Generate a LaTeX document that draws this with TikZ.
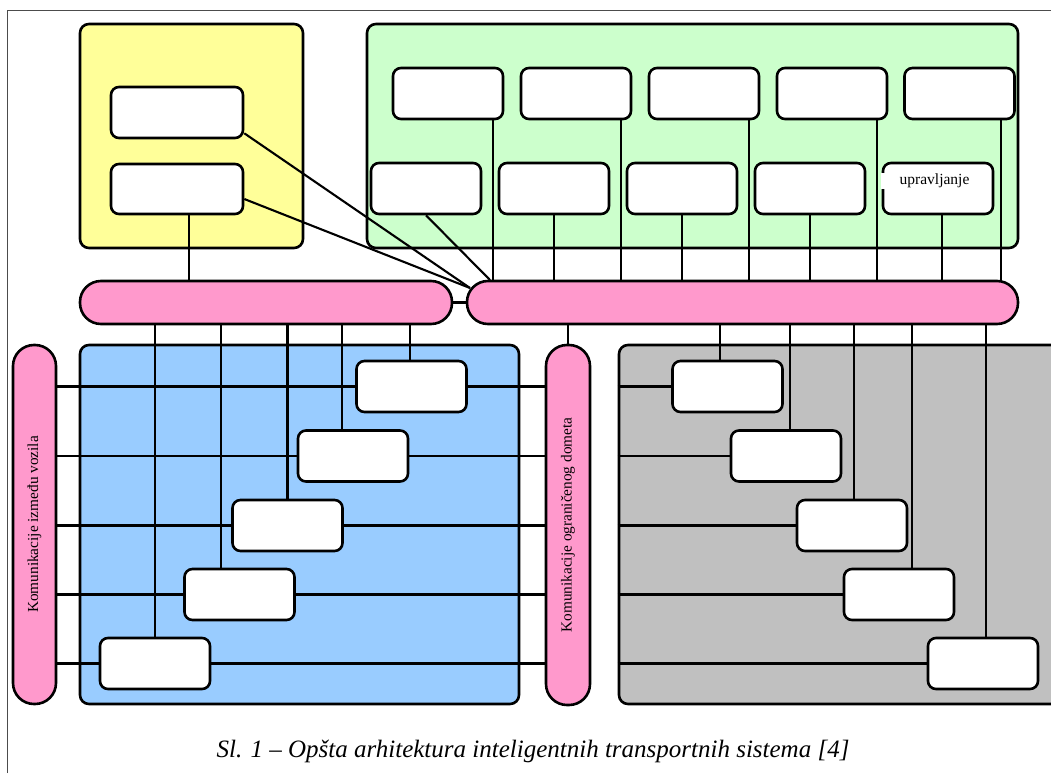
\documentclass[tikz,border=0pt]{standalone}
\usepackage{fontspec}
\usepackage{graphicx}
\setmainfont{Liberation Serif}
\usetikzlibrary{calc}
\definecolor{pinkc}{HTML}{FF99CC}
\definecolor{yellowc}{HTML}{FFFF99}
\definecolor{greenc}{HTML}{CCFFCC}
\definecolor{bluec}{HTML}{99CCFF}
\definecolor{grayc}{HTML}{C0C0C0}
\pgfdeclarelayer{panels}
\pgfdeclarelayer{wires}
\pgfsetlayers{panels,wires,main}
\tikzset{
  panel/.style={draw, line width=2.6pt, rounded corners=9pt, inner sep=0pt},
  wbox/.style={draw, fill=white, line width=2.6pt, rounded corners=8pt, minimum width=110pt, minimum height=51pt, inner sep=0pt},
  hbar/.style={draw, fill=pinkc, line width=2.6pt, rounded corners=21pt, minimum height=43pt, inner sep=0pt},
  vbar/.style={draw, fill=pinkc, line width=2.6pt, rounded corners=21pt, minimum width=43pt, minimum height=359pt, inner sep=0pt, font=\fontsize{15.3}{18}\selectfont},
  wire/.style={line width=2.1pt},
  lbl/.style={font=\fontsize{15.5}{18}\selectfont, inner sep=0pt}
}
\begin{document}
\begin{tikzpicture}[x=1pt,y=-1pt]
\clip (0,0) rectangle (1051,773);
\draw[gray!60!black, line width=0.8pt] (7,773) -- (7,10) -- (1051,10);

% panels
\begin{pgfonlayer}{panels}
\node[panel, fill=yellowc, minimum width=223pt, minimum height=224pt] (yp) at (191.5,136) {};
\node[panel, fill=greenc, minimum width=651pt, minimum height=224pt] (gnp) at (692.5,136) {};
\node[panel, fill=bluec, minimum width=439pt, minimum height=359pt] (bp) at (299.5,524.5) {};
\node[panel, fill=grayc, minimum width=451pt, minimum height=359pt] (gp) at (844.5,524.5) {};
\end{pgfonlayer}

% yellow boxes
\node[wbox, minimum width=132pt] (y1) at (177,112.5) {};
\node[wbox, minimum width=132pt, minimum height=50pt] (y2) at (177,189) {};

% green boxes
\node[wbox] (t1) at (448,93.5) {};
\node[wbox] (t2) at (576,93.5) {};
\node[wbox] (t3) at (704,93.5) {};
\node[wbox] (t4) at (832,93.5) {};
\node[wbox] (t5) at (959.5,93.5) {};
\node[wbox] (s1) at (426,188.5) {};
\node[wbox] (s2) at (554,188.5) {};
\node[wbox] (s3) at (682,188.5) {};
\node[wbox] (s4) at (810,188.5) {};
\node[wbox] (s5) at (938,188.5) {};
\fill[white] (880.5,172.5) rectangle (900,188.5);
\node[lbl] (upr) at (934.5,181) {upravljanje};

% bars
\node[hbar, minimum width=372pt] (lbar) at (266,302.5) {};
\node[hbar, minimum width=551pt] (rbar) at (742.5,302.5) {};
\node[vbar] (vb1) at (34.5,524.5) {\rotatebox{90}{Komunikacije između vozila}};
\node[vbar, minimum width=44pt, minimum height=360pt] (kb) at (568,525) {\rotatebox{90}{Komunikacije ograničenog dometa}};

% blue boxes
\node[wbox] (b1) at (411.5,386.5) {};
\node[wbox] (b2) at (353,456) {};
\node[wbox] (b3) at (287.5,525.5) {};
\node[wbox] (b4) at (239.5,594.5) {};
\node[wbox] (b5) at (155,663.5) {};

% gray boxes
\node[wbox] (g1) at (727.5,386.5) {};
\node[wbox] (g2) at (786,456) {};
\node[wbox] (g3) at (852,525.5) {};
\node[wbox] (g4) at (899,594.5) {};
\node[wbox] (g5) at (983,663.5) {};

\coordinate (conv) at (470,288);
\coordinate (conv2) at (490,280);

% caption
\node[font=\itshape\fontsize{25}{29}\selectfont, inner sep=0pt] (cap) at (533,751) {Sl. 1 – Opšta arhitektura inteligentnih transportnih sistema [4]};

\begin{pgfonlayer}{wires}
% yellow
\draw[wire] ([xshift=12pt]y2.south) -- ([xshift=12pt]y2.south |- lbar.north);
\draw[wire] ($(y1.south east)+(0,-6)$) -- (conv);
\draw[wire] ($(y2.east)+(0,10)$) -- (conv);
% green
\draw[wire] (s1.south) -- (conv2);
\foreach \b in {t1,t2,t3,t4}{
  \draw[wire] ([xshift=-11pt]\b.south east) -- ([xshift=-11pt]\b.south east |- rbar.north);
}
\draw[wire] ([xshift=-14.5pt]t5.south east) -- ([xshift=-14.5pt]t5.south east |- rbar.north);
\foreach \b in {s2,s3,s4}{
  \draw[wire] (\b.south) -- (\b.south |- rbar.north);
}
\draw[wire] ([xshift=4pt]s5.south) -- ([xshift=4pt]s5.south |- rbar.north);
% bar link
\draw[wire] (lbar.east) -- (rbar.west);
% blue verticals
\draw[wire] ([xshift=-1.5pt]b1.north) -- ([xshift=-1.5pt]b1.north |- lbar.south);
\draw[wire] ([xshift=-11pt]b2.north) -- ([xshift=-11pt]b2.north |- lbar.south);
\draw[wire] (b3.north) -- (b3.north |- lbar.south);
\draw[wire] ([xshift=-18.5pt]b4.north) -- ([xshift=-18.5pt]b4.north |- lbar.south);
\draw[wire] (b5.north) -- (b5.north |- lbar.south);
% gray verticals
\draw[wire] ([xshift=-7.5pt]g1.north) -- ([xshift=-7.5pt]g1.north |- rbar.south);
\draw[wire] ([xshift=4pt]g2.north) -- ([xshift=4pt]g2.north |- rbar.south);
\draw[wire] ([xshift=2pt]g3.north) -- ([xshift=2pt]g3.north |- rbar.south);
\draw[wire] ([xshift=13pt]g4.north) -- ([xshift=13pt]g4.north |- rbar.south);
\draw[wire] ([xshift=3pt]g5.north) -- ([xshift=3pt]g5.north |- rbar.south);
\draw[wire] (kb.north) -- (kb.north |- rbar.south);
% horizontals
\foreach \b in {b1,b2,b3,b4,b5}{
  \draw[wire] (\b.center -| vb1.east) -- (\b.center -| kb.west);
}
\foreach \b in {g1,g2,g3,g4,g5}{
  \draw[wire] (\b.center -| gp.west) -- (\b.west);
}
\end{pgfonlayer}
\end{tikzpicture}
\end{document}
